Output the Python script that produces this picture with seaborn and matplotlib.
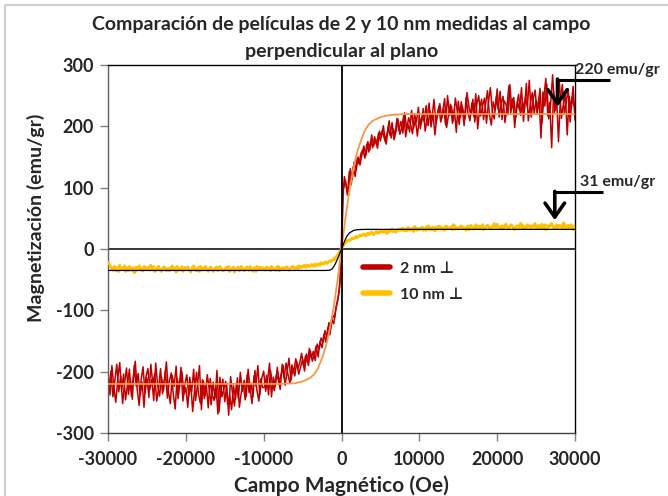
import numpy as np
import pandas as pd
import matplotlib
matplotlib.use("Agg")
import matplotlib.pyplot as plt
from matplotlib.lines import Line2D
import seaborn as sns

# Applied field for the two sweeps (Oe), one reading every 250 Oe
field_up = np.arange(-30000, 30001, 250)
field_down = np.arange(-29875, 30000, 250)

# 2 nm film, field perpendicular to the plane (emu/gr) - first sweep
m_2nm_up_neg = [
    -205, -238, -190, -226, -250, -212, -185, -230, -204, -246,
    -221, -196, -240, -208, -183, -229, -255, -214, -192, -235,
    -210, -242, -188, -220, -203, -248, -227, -195, -236, -213,
    -184, -231, -252, -206, -224, -191, -244, -218, -200, -237,
    -226, -258, -209, -233, -196, -247, -221, -190, -262, -215,
    -239, -205, -228, -254, -217, -243, -198, -266, -231, -212,
    -249, -222, -271, -208, -236, -256, -219, -244, -201, -232,
    -214, -241, -196, -228, -252, -207, -223, -190, -238, -211,
    -199, -232, -215, -186, -241, -209, -224, -193, -218, -204,
    -190, -222, -201, -178, -214, -196, -207, -183, -204, -192,
    -180, -199, -171, -190, -166, -183, -172, -158, -176, -150,
    -161, -139, -152, -128, -140, -115, -122, -98, -85, -62,
]
m_2nm_up_zero = [0]
m_2nm_up_pos = [
    98, 112, 88, 126, 105, 134, 118, 147, 139, 156,
    162, 148, 171, 158, 177, 165, 183, 170, 189, 176,
    194, 180, 171, 198, 185, 206, 178, 192, 212, 187,
    199, 218, 183, 205, 191, 226, 197, 210, 184, 215,
    204, 229, 192, 213, 238, 199, 221, 186, 216, 232,
    207, 224, 245, 198, 219, 236, 205, 228, 190, 241,
    214, 232, 201, 247, 222, 209, 238, 216, 253, 196,
    229, 244, 211, 235, 258, 219, 202, 240, 226, 261,
    215, 237, 249, 206, 231, 266, 222, 245, 198, 234,
    252, 218, 241, 227, 270, 209, 236, 255, 221, 243,
    230, 262, 205, 248, 278, 217, 239, 165, 258, 226,
    244, 271, 213, 236, 254, 186, 249, 229, 265, 210,
]
# 2 nm film - second sweep
m_2nm_down_neg = [
    -226, -199, -241, -215, -188, -233, -207, -252, -219, -194,
    -237, -211, -245, -190, -224, -203, -239, -217, -258, -208,
    -195, -229, -213, -247, -186, -222, -240, -209, -231, -198,
    -243, -216, -202, -235, -261, -211, -227, -193, -248, -220,
    -205, -240, -218, -265, -229, -201, -236, -252, -213, -244,
    -220, -259, -211, -237, -247, -225, -269, -209, -241, -228,
    -216, -253, -238, -262, -223, -245, -210, -258, -234, -219,
    -246, -205, -234, -219, -241, -198, -230, -248, -212, -226,
    -225, -206, -238, -198, -220, -231, -205, -213, -229, -188,
    -211, -186, -205, -219, -189, -200, -179, -195, -186, -170,
    -191, -174, -185, -162, -178, -167, -182, -155, -163, -145,
    -152, -133, -145, -120, -130, -108, -112, -90, -75, -45,
]
m_2nm_down_pos = [
    82, 118, 101, 93, 131, 114, 142, 128, 150, 137,
    154, 168, 152, 175, 161, 186, 168, 179, 164, 192,
    183, 201, 176, 190, 209, 181, 196, 187, 213, 193,
    208, 189, 222, 195, 214, 203, 188, 220, 207, 231,
    196, 217, 208, 234, 201, 225, 212, 244, 205, 221,
    237, 213, 229, 202, 250, 218, 233, 209, 246, 224,
    203, 240, 226, 212, 255, 231, 219, 244, 207, 236,
    250, 217, 233, 246, 205, 239, 263, 224, 212, 248,
    228, 257, 211, 242, 236, 219, 268, 230, 247, 214,
    239, 226, 263, 208, 248, 232, 275, 215, 244, 259,
    220, 247, 181, 256, 233, 269, 212, 238, 284, 223,
    251, 175, 246, 268, 222, 239, 260, 207, 248, 233,
]

# 10 nm film, field perpendicular to the plane (emu/gr) - first sweep
m_10nm_up_neg = [
    -21, -27, -33, -29, -36, -31, -26, -34, -30, -37,
    -32, -28, -35, -30, -38, -33, -27, -31, -36, -29,
    -34, -30, -26, -33, -37, -31, -28, -35, -32, -29,
    -36, -31, -34, -27, -32, -38, -30, -33, -28, -35,
    -31, -29, -36, -33, -27, -34, -31, -37, -30, -32,
    -28, -35, -32, -30, -37, -33, -29, -34, -31, -36,
    -33, -30, -28, -35, -31, -38, -32, -29, -34, -30,
    -36, -31, -33, -28, -35, -30, -37, -32, -29, -34,
    -31, -35, -30, -33, -28, -34, -31, -29, -36, -32,
    -30, -33, -29, -35, -31, -28, -32, -30, -27, -31,
    -29, -26, -30, -27, -28, -25, -29, -26, -24, -27,
    -23, -25, -21, -22, -19, -20, -16, -13, -9, -4,
]
m_10nm_up_zero = [0]
m_10nm_up_pos = [
    6, 10, 14, 13, 17, 16, 20, 18, 22, 21,
    24, 22, 25, 23, 27, 24, 26, 29, 25, 28,
    27, 30, 26, 31, 28, 33, 29, 27, 32, 30,
    34, 29, 31, 35, 30, 33, 28, 36, 31, 32,
    35, 30, 34, 37, 31, 33, 36, 29, 34, 38,
    32, 35, 30, 37, 33, 36, 31, 39, 34, 32,
    37, 33, 35, 30, 38, 34, 36, 32, 40, 35,
    33, 37, 31, 36, 39, 34, 32, 38, 35, 41,
    34, 37, 32, 39, 35, 33, 40, 36, 31, 38,
    35, 42, 33, 37, 34, 39, 32, 36, 40, 34,
    37, 33, 41, 35, 31, 38, 36, 42, 34, 37,
    33, 39, 35, 43, 32, 37, 34, 40, 31, 36,
]
# 10 nm film - second sweep
m_10nm_down_neg = [
    -23, -31, -35, -28, -33, -37, -30, -34, -27, -32,
    -36, -30, -33, -39, -29, -34, -31, -36, -28, -33,
    -30, -35, -32, -28, -36, -31, -34, -37, -29, -33,
    -32, -36, -29, -34, -31, -28, -35, -32, -37, -30,
    -34, -31, -38, -29, -33, -36, -30, -28, -35, -33,
    -31, -37, -29, -34, -32, -30, -36, -28, -33, -35,
    -30, -34, -37, -32, -29, -35, -31, -36, -28, -33,
    -32, -29, -35, -31, -37, -33, -28, -34, -31, -30,
    -34, -29, -32, -36, -30, -33, -35, -28, -32, -34,
    -33, -29, -31, -34, -28, -32, -30, -33, -29, -28,
    -27, -30, -26, -29, -25, -28, -24, -27, -25, -22,
    -25, -21, -24, -20, -21, -17, -18, -14, -10, -6,
]
m_10nm_down_pos = [
    3, 8, 12, 15, 14, 18, 17, 21, 19, 23,
    22, 25, 21, 26, 24, 28, 23, 27, 26, 29,
    31, 27, 29, 25, 30, 32, 28, 31, 29, 33,
    30, 34, 32, 29, 35, 31, 33, 37, 30, 34,
    32, 36, 33, 30, 38, 35, 31, 34, 36, 32,
    37, 34, 31, 38, 35, 33, 36, 40, 32, 35,
    34, 38, 36, 33, 37, 31, 39, 35, 37, 33,
    38, 35, 40, 33, 36, 38, 34, 37, 42, 35,
    37, 33, 38, 36, 41, 34, 37, 39, 33, 36,
    38, 35, 41, 37, 33, 40, 36, 38, 35, 42,
    34, 39, 36, 33, 40, 37, 35, 41, 38, 34,
    40, 36, 38, 34, 42, 35, 39, 37, 33, 38,
]

# Fitted curves
fit_2nm_field = [-30000, -8000, -6000, -5000, -4000, -3500, -3000, -2500, -2000, -1500,
                 -1000, -500, 0, 500, 1000, 1500, 2000, 2500, 3000, 3500, 4000,
                 5000, 6000, 8000, 30000]
fit_2nm_m = [-220, -220, -219, -216, -210, -204, -194, -178, -158, -130,
             -94, -50, 0, 50, 94, 130, 158, 177, 193, 203, 209,
             215, 218, 220, 220]
fit_10nm_field = [-30000, -2000, -1500, -1250, -1000, -750, -500, -250, 0,
                  250, 500, 750, 1000, 1500, 2000, 3000, 30000]
fit_10nm_m = [-35, -35, -34.5, -33, -29, -23, -16, -8, 0,
              8, 16, 22, 26, 30, 31.5, 32, 32]

x_ticks = [-30000, -20000, -10000, 0, 10000, 20000, 30000]
y_ticks = [-300, -200, -100, 0, 100, 200, 300]

title_text = "Comparación de películas de 2 y 10 nm medidas al campo\nperpendicular al plano"
series_labels = ["2 nm \u22a5", "10 nm \u22a5"]
saturation_labels = ["220 emu/gr", "31 emu/gr"]

RED = "#C00000"
YELLOW = "#FFC000"
ORANGE = "#F79646"

sns.set_theme(style="white")
plt.rcParams["font.family"] = ["Lato", "DejaVu Sans"]
plt.rcParams["font.weight"] = "bold"

sweep_up = pd.DataFrame({
    "field": field_up,
    "m2": m_2nm_up_neg + m_2nm_up_zero + m_2nm_up_pos,
    "m10": m_10nm_up_neg + m_10nm_up_zero + m_10nm_up_pos,
    "sweep": "up",
})
sweep_down = pd.DataFrame({
    "field": field_down,
    "m2": m_2nm_down_neg + m_2nm_down_pos,
    "m10": m_10nm_down_neg + m_10nm_down_pos,
    "sweep": "down",
})
data = pd.concat([sweep_up, sweep_down], ignore_index=True)

fig = plt.figure(figsize=(6.68, 4.96), dpi=100)
ax = fig.add_axes([0.1617, 0.127, 0.6991, 0.742])

sns.lineplot(data=data, x="field", y="m2", units="sweep", ax=ax, color=RED,
             lw=1.1, estimator=None, sort=False, zorder=2)
sns.lineplot(data=data, x="field", y="m10", units="sweep", ax=ax, color=YELLOW,
             lw=1.7, estimator=None, sort=False, zorder=3)
sns.lineplot(x=fit_2nm_field, y=fit_2nm_m, ax=ax, color=ORANGE, lw=1.3,
             estimator=None, sort=False, zorder=4)
sns.lineplot(x=fit_10nm_field, y=fit_10nm_m, ax=ax, color="black", lw=0.9,
             estimator=None, sort=False, zorder=5)

ax.axhline(0, color="black", lw=1.1, zorder=1)
ax.axvline(0, color="black", lw=1.3, zorder=6)

ax.set_xlim(-30000, 30000)
ax.set_ylim(-300, 300)
ax.set_xticks(x_ticks)
ax.set_yticks(y_ticks)
ax.set_xticklabels([str(v) for v in x_ticks], fontsize=13, fontweight="bold")
ax.set_yticklabels([str(v) for v in y_ticks], fontsize=13, fontweight="bold")
ax.tick_params(axis="both", direction="out", length=6, width=1, color="#808080",
               pad=4, bottom=True, left=True)
ax.tick_params(axis="x", pad=7)
for s in ax.spines.values():
    s.set_color("black")
    s.set_linewidth(1.0)
ax.spines["left"].set_color("#606060")
ax.spines["bottom"].set_color("#404040")

ax.set_xlabel("Campo Magnético (Oe)", fontsize=15, fontweight="bold", labelpad=5)
ax.set_ylabel("Magnetización (emu/gr)", fontsize=14, fontweight="bold")
ax.yaxis.set_label_coords(-0.135, 0.585)
ax.set_title(title_text, fontsize=14, fontweight="bold", pad=6, linespacing=1.7)

handles = [Line2D([], [], color=RED, lw=4), Line2D([], [], color=YELLOW, lw=4)]
ax.legend(handles, series_labels, loc="upper left", bbox_to_anchor=(0.515, 0.505),
          frameon=False, handlelength=1.7, handletextpad=0.6,
          labelspacing=0.75, prop={"weight": "bold", "size": 11.5})

# Saturation markers: text, leader line and arrow pointing at the plateau
marks = [
    (saturation_labels[0], 29950, 292, 27750, 34450, 276, 232),
    (saturation_labels[1], 30600, 109, 27400, 33550, 93, 47),
]
for text, tx, ty, x0, x1, yl, ytip in marks:
    ax.text(tx, ty, text, fontsize=11.5, fontweight="bold", ha="left", va="center",
            clip_on=False)
    ax.plot([x0, x1], [yl, yl], color="black", lw=2.2, clip_on=False,
            solid_capstyle="butt", zorder=7)
    ax.annotate("", xy=(x0, ytip), xytext=(x0, yl + 1), annotation_clip=False,
                arrowprops=dict(arrowstyle="->,head_length=0.5,head_width=0.35",
                                lw=2.6, color="black",
                                mutation_scale=20, shrinkA=0, shrinkB=0),
                zorder=7)

# Chart frame
fig.add_artist(Line2D([0.008, 0.008], [0.0, 0.99], transform=fig.transFigure,
                      color="#D0D0D0", lw=1.5))
fig.add_artist(Line2D([0.008, 1.0], [0.99, 0.99], transform=fig.transFigure,
                      color="#D0D0D0", lw=1.5))

fig.savefig("out.png", dpi=100, facecolor="white")
